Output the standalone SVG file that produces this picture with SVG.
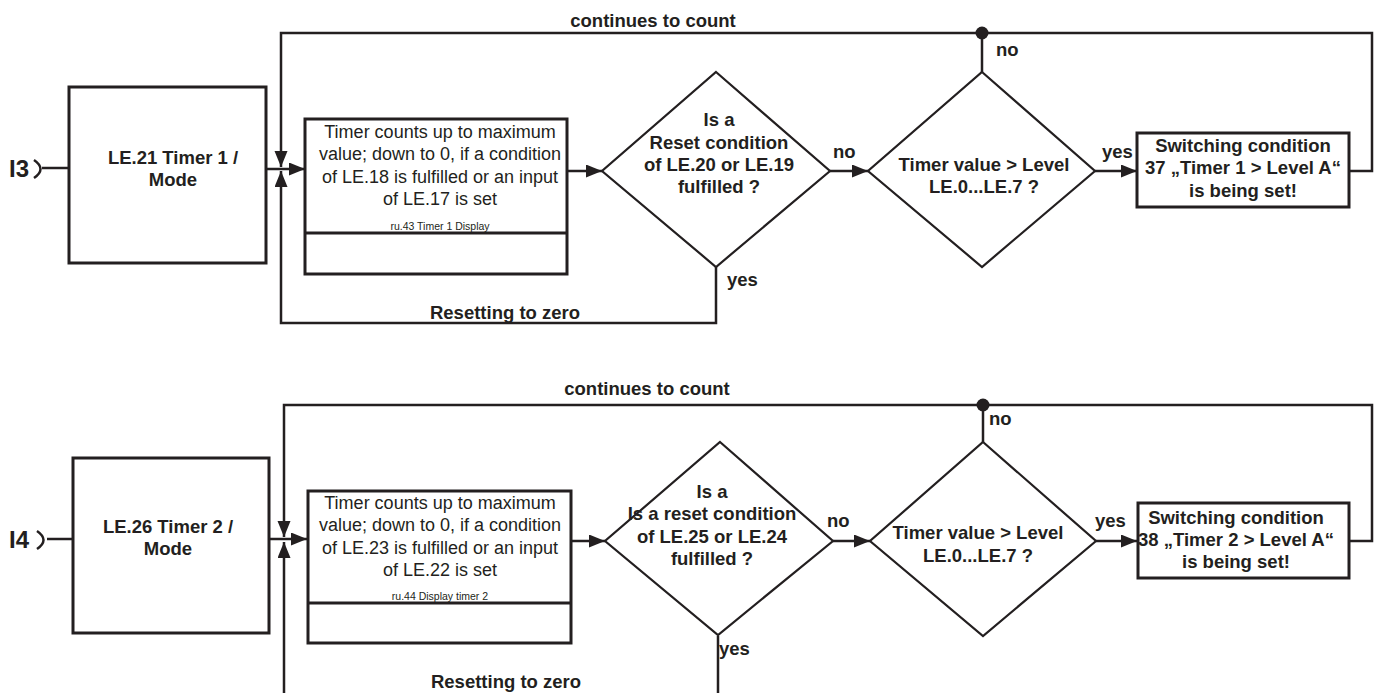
<svg xmlns="http://www.w3.org/2000/svg" width="1374" height="693" viewBox="0 0 1374 693">
<defs>
<style>
.box{fill:#fff;stroke:#231f20;stroke-width:3}
.dia{fill:#fff;stroke:#231f20;stroke-width:2.2}
.ln{fill:none;stroke:#231f20;stroke-width:2.5}
.b{font-family:"Liberation Sans",Arial,sans-serif;font-weight:bold;font-size:18.5px;fill:#231f20}
.r{font-family:"Liberation Sans",Arial,sans-serif;font-size:18px;fill:#231f20}
.s{font-family:"Liberation Sans",Arial,sans-serif;font-size:10.5px;fill:#231f20}
.c{text-anchor:middle}
</style>
<marker id="ah" markerUnits="userSpaceOnUse" markerWidth="17" markerHeight="14" refX="16" refY="6.5" orient="auto">
<path d="M0,0 L16,6.5 L0,13 z" fill="#231f20"/>
</marker>
</defs>
<rect width="1374" height="693" fill="#fff"/>

<g id="connectors">
<!-- top -->
<path class="ln" d="M34,160 Q47,169 34,178"/>
<path class="ln" d="M42,168 H69"/>
<path class="ln" d="M266,169 H305" marker-end="url(#ah)"/>
<path class="ln" d="M1349,171 H1372 V33 H281 V167" marker-end="url(#ah)"/>
<path class="ln" d="M716,267 V323 H281 V171" marker-end="url(#ah)"/>
<path class="ln" d="M567,171 H602" marker-end="url(#ah)"/>
<path class="ln" d="M830,171 H868" marker-end="url(#ah)"/>
<path class="ln" d="M982,72 V33"/>
<circle cx="982" cy="33" r="6.5" fill="#231f20"/>
<path class="ln" d="M1095,171 H1137" marker-end="url(#ah)"/>
<!-- bottom -->
<path class="ln" d="M37,531 Q50,540 37,549"/>
<path class="ln" d="M47,539 H73"/>
<path class="ln" d="M269,539 H307" marker-end="url(#ah)"/>
<path class="ln" d="M1349,541 H1372 V405 H284 V537" marker-end="url(#ah)"/>
<path class="ln" d="M718,636 V700 H284 V542" marker-end="url(#ah)"/>
<path class="ln" d="M571,541 H605" marker-end="url(#ah)"/>
<path class="ln" d="M833,541 H870" marker-end="url(#ah)"/>
<path class="ln" d="M983,442 V405"/>
<circle cx="983" cy="405" r="6.5" fill="#231f20"/>
<path class="ln" d="M1096,541 H1137" marker-end="url(#ah)"/>
<!-- labels -->
<text class="b c" x="653" y="27">continues to count</text>
<text class="b c" x="505" y="319">Resetting to zero</text>
<text class="b" x="833" y="158">no</text>
<text class="b" x="727" y="286">yes</text>
<text class="b" x="996" y="56">no</text>
<text class="b" x="1102" y="158">yes</text>
<text class="b c" x="647" y="395">continues to count</text>
<text class="b c" x="506" y="688">Resetting to zero</text>
<text class="b" x="827" y="527">no</text>
<text class="b" x="719" y="655">yes</text>
<text class="b" x="989" y="425">no</text>
<text class="b" x="1095" y="527">yes</text>
</g>

<g id="input-I3">
<text class="b" x="9" y="177" style="font-size:24px">I3</text>
</g>
<g id="mode-1">
<rect class="box" x="69" y="87" width="197" height="176"/>
<text class="b c" x="173" y="164">LE.21 Timer 1 /</text>
<text class="b c" x="173" y="186">Mode</text>
</g>
<g id="timer-1">
<rect class="box" x="305" y="119" width="262" height="155"/>
<line class="box" x1="305" y1="233" x2="567" y2="233"/>
<text class="r c" x="440" y="138">Timer counts up to maximum</text>
<text class="r c" x="440" y="160">value; down to 0, if a condition</text>
<text class="r c" x="440" y="183">of LE.18 is fulfilled or an input</text>
<text class="r c" x="440" y="205">of LE.17 is set</text>
<text class="s c" x="440" y="230">ru.43 Timer 1 Display</text>
</g>
<g id="reset-1">
<polygon class="dia" points="716,72 830,171 716,267 602,171"/>
<text class="b c" x="719" y="126">Is a</text>
<text class="b c" x="719" y="149">Reset condition</text>
<text class="b c" x="719" y="171">of LE.20 or LE.19</text>
<text class="b c" x="719" y="193">fulfilled ?</text>
</g>
<g id="level-1">
<polygon class="dia" points="982,72 1095,171 982,267 868,171"/>
<text class="b c" x="984" y="171">Timer value &gt; Level</text>
<text class="b c" x="984" y="193">LE.0...LE.7 ?</text>
</g>
<g id="switch-37">
<rect class="box" x="1137" y="133" width="212" height="74"/>
<text class="b c" x="1243" y="152">Switching condition</text>
<text class="b c" x="1243" y="174">37 „Timer 1 &gt; Level A“</text>
<text class="b c" x="1243" y="197">is being set!</text>
</g>

<g id="input-I4">
<text class="b" x="9" y="548" style="font-size:24px">I4</text>
</g>
<g id="mode-2">
<rect class="box" x="73" y="458" width="196" height="175"/>
<text class="b c" x="168" y="533">LE.26 Timer 2 /</text>
<text class="b c" x="168" y="555">Mode</text>
</g>
<g id="timer-2">
<rect class="box" x="308" y="491" width="263" height="152"/>
<line class="box" x1="308" y1="603" x2="571" y2="603"/>
<text class="r c" x="440" y="509">Timer counts up to maximum</text>
<text class="r c" x="440" y="531">value; down to 0, if a condition</text>
<text class="r c" x="440" y="554">of LE.23 is fulfilled or an input</text>
<text class="r c" x="440" y="576">of LE.22 is set</text>
<text class="s c" x="440" y="600">ru.44 Display timer 2</text>
</g>
<g id="reset-2">
<polygon class="dia" points="720,442 833,541 718,635 605,541"/>
<text class="b c" x="712" y="498">Is a</text>
<text class="b c" x="712" y="520">Is a reset condition</text>
<text class="b c" x="712" y="543">of LE.25 or LE.24</text>
<text class="b c" x="712" y="565">fulfilled ?</text>
</g>
<g id="level-2">
<polygon class="dia" points="983,442 1096,541 983,636 870,541"/>
<text class="b c" x="978" y="539">Timer value &gt; Level</text>
<text class="b c" x="978" y="562">LE.0...LE.7 ?</text>
</g>
<g id="switch-38">
<rect class="box" x="1138" y="503" width="211" height="75"/>
<text class="b c" x="1236" y="524">Switching condition</text>
<text class="b c" x="1236" y="546">38 „Timer 2 &gt; Level A“</text>
<text class="b c" x="1236" y="568">is being set!</text>
</g>
</svg>
